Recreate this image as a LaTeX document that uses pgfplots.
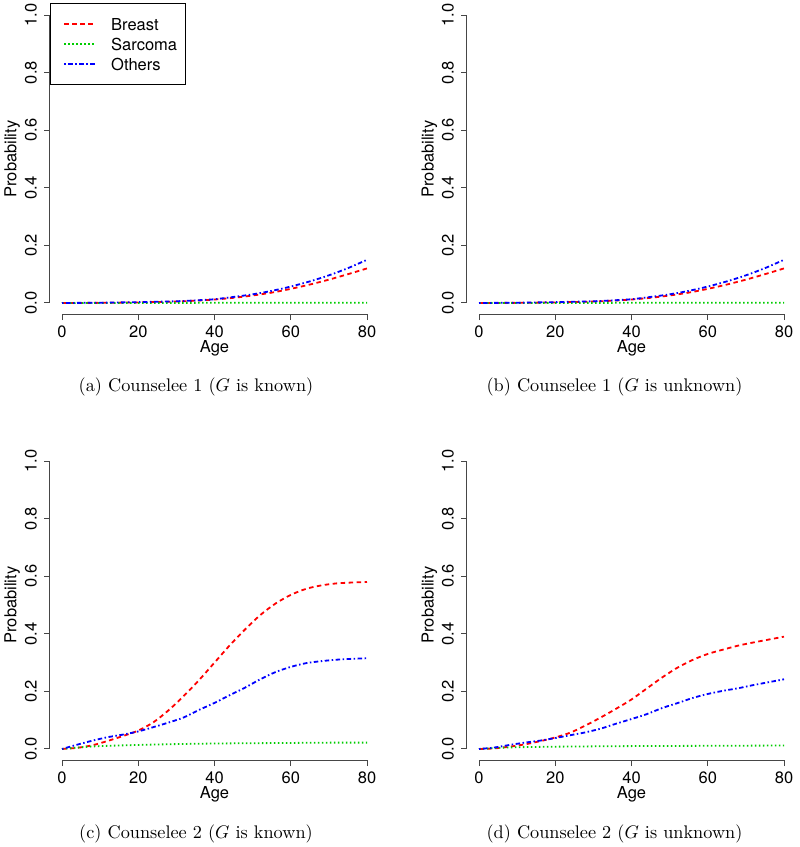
\documentclass[border=0pt]{standalone}
\usepackage{fontspec}
\usepackage{graphicx}
\usepackage{pgfplots}
\pgfplotsset{compat=1.18}
\newfontfamily\hv{TeX Gyre Heros}
\newcommand\hvs{\hv\fontsize{16.5}{19.8}\selectfont}
\definecolor{rred}{RGB}{255,0,0}
\definecolor{rgreen}{RGB}{0,205,0}
\definecolor{rblue}{RGB}{0,0,255}
\definecolor{raxis}{RGB}{70,70,70}

\pgfplotsset{
  rplot/.style={
    scale only axis, width=329.4pt, height=311pt,
    xmin=-3.2, xmax=83.2, ymin=-0.04, ymax=1.04,
    axis x line*=bottom, axis y line*=left,
    x axis line style={draw=none}, y axis line style={draw=none},
    xtick={0,20,40,60,80}, xticklabels={0,20,40,60,80},
    ytick={0,0.2,0.4,0.6,0.8,1}, yticklabels={0.0,0.2,0.4,0.6,0.8,1.0},
    minor tick num=0,
    tick align=outside, major tick length=5.7pt,
    every tick/.style={raxis, line width=1pt},
    /pgf/number format/assume math mode=true,
    ticklabel style={font=\hvs, inner sep=0pt},
    xticklabel style={anchor=base, yshift=-17.6pt},
    yticklabel style={xshift=-7pt, rotate=90, anchor=south},
    xlabel={Age}, ylabel={Probability},
    every axis x label/.style={at={(axis description cs:0.5,0)}, yshift=-38.2pt, anchor=base, font=\hvs, inner sep=0pt},
    every axis y label/.style={at={(axis description cs:0,0.5)}, xshift=-33.3pt, rotate=90, anchor=base, font=\hvs, inner sep=0pt},
    clip=false,
  },
  breast/.style={rred, line width=1.8pt, dash pattern=on 4.5pt off 3.5pt, smooth},
  sarcoma/.style={rgreen, line width=1.8pt, dash pattern=on 1.5pt off 2.5pt, smooth},
  others/.style={rblue, line width=1.8pt, dash pattern=on 1.5pt off 2.5pt on 4.5pt off 2.5pt, smooth},
}
\newcommand\raxes{%
  \draw[raxis, line width=1pt] (axis cs:0,-0.04) -- (axis cs:80,-0.04);
  \draw[raxis, line width=1pt] (axis cs:-3.2,0) -- (axis cs:-3.2,1);
}
\newcommand\capt[1]{\scalebox{1.825}{\fontsize{10}{12}\selectfont #1}}

\pgfplotstableread{
x y
0 0
10 0.0005
20 0.002
30 0.005
35 0.008
40 0.012
45 0.018
50 0.026
55 0.036
60 0.049
65 0.064
70 0.081
75 0.1
80 0.12
}\oneBreast
\pgfplotstableread{
x y
0 0
40 0.0005
80 0.001
}\oneSarcoma
\pgfplotstableread{
x y
0 0
10 0.001
20 0.003
30 0.006
35 0.009
40 0.013
45 0.021
50 0.03
55 0.042
60 0.057
65 0.075
70 0.096
75 0.121
80 0.15
}\oneOthers

\pgfplotstableread{
x y
0 0
4 0.004
8 0.013
12 0.028
16 0.045
20 0.064
24 0.093
28 0.135
32 0.185
36 0.24
40 0.3
44 0.36
48 0.415
52 0.465
56 0.505
60 0.535
64 0.556
68 0.568
72 0.575
76 0.578
80 0.58
}\cBreast
\pgfplotstableread{
x y
0 0
5 0.006
10 0.01
20 0.014
30 0.017
40 0.019
50 0.02
60 0.021
70 0.022
80 0.022
}\cSarcoma
\pgfplotstableread{
x y
0 0
4 0.015
8 0.029
12 0.041
16 0.05
20 0.061
24 0.076
28 0.092
32 0.11
36 0.136
40 0.16
44 0.187
48 0.213
52 0.242
56 0.267
60 0.285
64 0.298
68 0.305
72 0.31
76 0.313
80 0.315
}\cOthers

\pgfplotstableread{
x y
0 0
4 0.002
8 0.008
12 0.016
16 0.027
20 0.04
24 0.057
28 0.082
32 0.11
36 0.14
40 0.172
44 0.21
48 0.248
52 0.282
56 0.309
60 0.33
64 0.345
68 0.359
72 0.37
76 0.38
80 0.39
}\dBreast
\pgfplotstableread{
x y
0 0
5 0.004
10 0.006
20 0.008
40 0.01
60 0.011
80 0.012
}\dSarcoma
\pgfplotstableread{
x y
0 0
4 0.005
8 0.014
12 0.022
16 0.029
20 0.038
24 0.048
28 0.058
32 0.071
36 0.088
40 0.104
44 0.121
48 0.142
52 0.159
56 0.177
60 0.191
64 0.202
68 0.211
72 0.222
76 0.232
80 0.242
}\dOthers

\begin{document}
\begin{tikzpicture}
\useasboundingbox (0,0) rectangle (800pt,847pt);

% (a)
\begin{axis}[rplot, at={(49.8pt,532.5pt)}, anchor=south west,
  legend style={at={(axis description cs:0,1)}, anchor=north west, draw=black, line width=0.8pt,
    font=\hvs, inner xsep=8pt, inner ysep=10.4pt, row sep=0.2pt,
    nodes={inner sep=0pt, text height=15.8pt, text depth=4pt}},
  legend cell align=left,
  legend image code/.code={\draw[#1] (6pt,0pt) -- (37pt,0pt); \path[draw=none] (0pt,0pt) -- (53pt,0pt);},
]
\raxes
\addplot[breast] table {\oneBreast};
\addlegendentry{Breast}
\addplot[sarcoma] table {\oneSarcoma};
\addlegendentry{Sarcoma}
\addplot[others] table {\oneOthers};
\addlegendentry{Others}
\end{axis}

% (b)
\begin{axis}[rplot, at={(466.8pt,532.5pt)}, anchor=south west]
\raxes
\addplot[breast] table {\oneBreast};
\addplot[sarcoma] table {\oneSarcoma};
\addplot[others] table {\oneOthers};
\end{axis}

% (c)
\begin{axis}[rplot, at={(49.8pt,86.5pt)}, anchor=south west]
\raxes
\addplot[breast] table {\cBreast};
\addplot[sarcoma] table {\cSarcoma};
\addplot[others] table {\cOthers};
\end{axis}

% (d)
\begin{axis}[rplot, at={(466.8pt,86.5pt)}, anchor=south west]
\raxes
\addplot[breast] table {\dBreast};
\addplot[sarcoma] table {\dSarcoma};
\addplot[others] table {\dOthers};
\end{axis}

\node[anchor=base, inner sep=0pt] at (196pt,455.5pt) {\capt{(a) Counselee 1 ($G$ is known)}};
\node[anchor=base, inner sep=0pt] at (614.5pt,455.5pt) {\capt{(b) Counselee 1 ($G$ is unknown)}};
\node[anchor=base, inner sep=0pt] at (196pt,9pt) {\capt{(c) Counselee 2 ($G$ is known)}};
\node[anchor=base, inner sep=0pt] at (614.5pt,9pt) {\capt{(d) Counselee 2 ($G$ is unknown)}};
\end{tikzpicture}
\end{document}
